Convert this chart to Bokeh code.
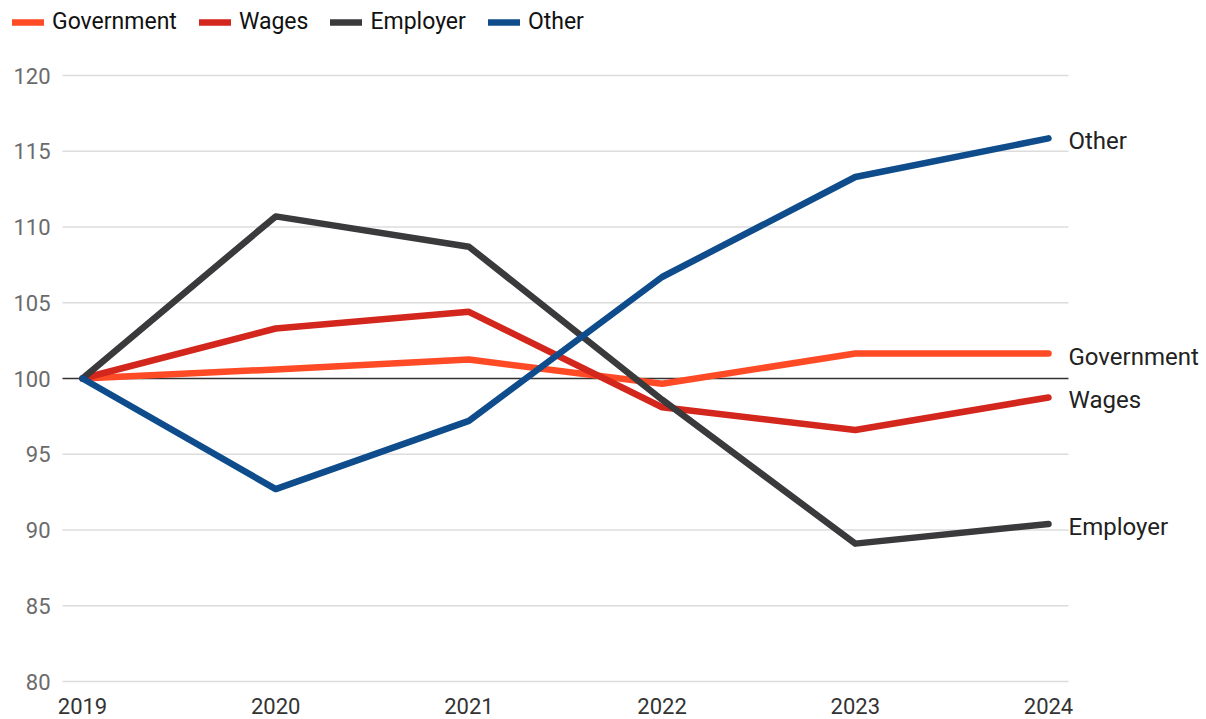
from bokeh.plotting import figure
from bokeh.models import Range1d, Legend, LegendItem, ColumnDataSource
from bokeh.core.properties import value
from bokeh.embed import file_html
from bokeh.resources import INLINE

years = [2019, 2020, 2021, 2022, 2023, 2024]
year_labels = [str(y) for y in years]
government = [100, 100.6, 101.25, 99.65, 101.65, 101.65]
wages = [100, 103.3, 104.4, 98.1, 96.6, 98.75]
employer = [100, 110.7, 108.7, 98.6, 89.1, 90.4]
other = [100, 92.7, 97.2, 106.7, 113.3, 115.85]
series_names = ["Government", "Wages", "Employer", "Other"]
series_colors = ["#FF4A26", "#D3261D", "#3A3A3C", "#0E4C8C"]
y_ticks = [80, 85, 90, 95, 100, 105, 110, 115, 120]
y_tick_labels = [str(t) for t in y_ticks]

FONT = "Roboto"
W, H = 1206, 719
px_per_year = 193.2
px_per_unit = 15.15
first_px = 82            # screen x of first year
base_px = 681            # screen y of lowest tick
label_right_px = 50      # right edge of y tick labels
pad_grid = 20 / px_per_year

x0 = years[0] - first_px / px_per_year
x1 = x0 + W / px_per_year
y0 = y_ticks[0] - (H - base_px) / px_per_unit
y1 = y_ticks[0] + base_px / px_per_unit

p = figure(width=W, height=H, output_backend="svg", toolbar_location=None,
           x_range=Range1d(x0, x1), y_range=Range1d(y0, y1),
           min_border=0)
p.outline_line_color = None
p.xgrid.visible = False
p.ygrid.visible = False
p.xaxis.visible = False
p.yaxis.visible = False

# grid lines
gx0 = years[0] - pad_grid
gx1 = years[-1] + pad_grid
grid_src = ColumnDataSource(dict(y=[t for t in y_ticks if t != 100]))
p.segment(x0=gx0, x1=gx1, y0="y", y1="y", source=grid_src,
          line_color="#dcdcdc", line_width=1.5)
p.segment(x0=gx0, x1=gx1, y0=100, y1=100, line_color="#333333", line_width=1.5)

# y tick labels
p.text(x=x0 + label_right_px / px_per_year, y=y_ticks, text=y_tick_labels,
       text_font=value(FONT), text_font_size="22px", text_color="#6b6b6b",
       text_align="right", text_baseline="middle")

# x tick labels
p.text(x=years, y=[y_ticks[0]] * len(years), text=year_labels,
       text_font=value(FONT), text_font_size="22px", text_color="#333333",
       text_align="center", text_baseline="middle", y_offset=24)

data = {"Government": government, "Wages": wages, "Employer": employer, "Other": other}
renderers = {}
for name, color in zip(series_names, series_colors):
    r = p.line(years, data[name], line_color=color, line_width=6.5,
               line_cap="round", line_join="round")
    renderers[name] = r
    p.text(x=[years[-1]], y=[data[name][-1]], text=[name],
           text_font=value(FONT), text_font_size="24px", text_color="#222222",
           text_baseline="middle", text_align="left", x_offset=20, y_offset=3)

legend = Legend(items=[LegendItem(label=n, renderers=[renderers[n]]) for n in series_names],
                orientation="horizontal", location=(12, H - 35),
                margin=0, padding=6, spacing=22, glyph_width=32, glyph_height=20,
                label_standoff=8, label_text_font=FONT, label_text_font_size="23px",
                label_text_color="#111111", border_line_color=None,
                background_fill_alpha=0)
p.add_layout(legend)

open("out.html", "w").write(file_html(p, INLINE))
